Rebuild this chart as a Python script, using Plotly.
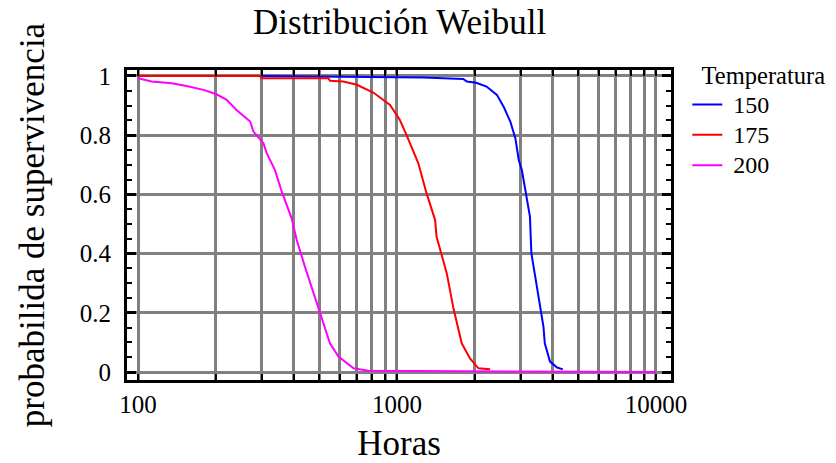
import plotly.graph_objects as go

# Series data
horas_150 = [100, 300, 1264, 1802, 1862, 2022, 2217, 2431, 2580, 2739, 2865, 2952, 3035, 3261, 3303, 3494, 3677, 3721, 3898, 4150, 4368]
surv_150 = [1.0, 1.0, 0.995, 0.99, 0.981, 0.977, 0.964, 0.936, 0.896, 0.846, 0.789, 0.716, 0.682, 0.525, 0.401, 0.277, 0.153, 0.097, 0.035, 0.015, 0.009]

horas_175 = [100, 296, 300, 543, 551, 620, 700, 810, 940, 1026, 1088, 1209, 1300, 1403, 1422, 1557, 1652, 1778, 1913, 2064, 2288]
surv_175 = [1.0, 1.0, 0.992, 0.992, 0.984, 0.981, 0.970, 0.944, 0.902, 0.851, 0.801, 0.705, 0.604, 0.514, 0.457, 0.333, 0.215, 0.097, 0.046, 0.0125, 0.009]

horas_200 = [100, 113, 135, 154, 179, 201, 220, 240, 271, 279, 305, 314, 338, 359, 392, 410, 441, 476, 503, 551, 594, 680, 775, 10000]
surv_200 = [0.992, 0.981, 0.975, 0.966, 0.953, 0.938, 0.919, 0.885, 0.846, 0.812, 0.773, 0.739, 0.682, 0.609, 0.519, 0.446, 0.356, 0.266, 0.198, 0.097, 0.052, 0.0125, 0.004, 0.0]

series_names = ["150", "175", "200"]
series_colors = ["#0000ff", "#ff0000", "#ff00ff"]

x_tickvals = [m * 10 ** e for e in (2, 3) for m in range(1, 10)] + [10000]
x_ticktext = [str(v) if v in (100, 1000, 10000) else "" for v in x_tickvals]
y_tickvals = [0, 0.2, 0.4, 0.6, 0.8, 1]
y_ticktext = ["0", "0.2", "0.4", "0.6", "0.8", "1"]

FONT = "Liberation Serif, Times New Roman, serif"

fig = go.Figure()
for xs, ys, name, color in zip([horas_150, horas_175, horas_200],
                               [surv_150, surv_175, surv_200],
                               series_names, series_colors):
    fig.add_trace(go.Scatter(x=xs, y=ys, mode="lines",
                             name="<span style='font-size:24px'>&nbsp;" + name + "</span>",
                             line=dict(color=color, width=2)))

fig.update_layout(
    width=836, height=463,
    margin=dict(l=127, r=165, t=70, b=83, autoexpand=False),
    paper_bgcolor="white", plot_bgcolor="white",
    font=dict(family=FONT, color="black", size=25),
    title=dict(text="Distribución Weibull", x=0.478, xanchor="center",
               y=0.952, yanchor="middle", font=dict(size=35, family=FONT)),
    legend=dict(x=1.03, y=1.05, xanchor="left", yanchor="top",
                title=dict(text="<span style='font-size:24.5px'>&nbsp;&nbsp;Temperatura</span>"),
                font=dict(size=21, family=FONT), tracegroupgap=0,
                itemwidth=30,
                bgcolor="rgba(0,0,0,0)"),
)
fig.update_layout(legend_title_font=dict(size=23, family=FONT, color="black"))

fig.update_xaxes(
    type="log", range=[1.9575, 4.058], automargin=False,
    tickmode="array", tickvals=x_tickvals, ticktext=x_ticktext,
    ticks="inside", ticklen=6, tickwidth=2, tickcolor="black",
    showgrid=True, gridcolor="#808080", gridwidth=3,
    showline=True, linecolor="black", linewidth=3, mirror="ticks",
    zeroline=False,
    title=dict(text="Horas", font=dict(size=35, family=FONT), standoff=18),
    tickfont=dict(size=25, family=FONT),
)
fig.update_yaxes(
    range=[-0.027, 1.02], automargin=False,
    tickmode="array", tickvals=y_tickvals, ticktext=y_ticktext,
    ticks="inside", ticklen=9, tickwidth=3, tickcolor="black",
    minor=dict(dtick=0.05, ticks="inside", ticklen=5, tickwidth=2, tickcolor="black", showgrid=False),
    showgrid=True, gridcolor="#808080", gridwidth=3,
    showline=True, linecolor="black", linewidth=3, mirror="ticks",
    zeroline=False, ticklabelstandoff=8,
    title=dict(text="probabilida de supervivencia", font=dict(size=35, family=FONT), standoff=25),
    tickfont=dict(size=25, family=FONT),
)

fig.write_html("out.html", config={"displayModeBar": False},
               post_script="document.body.style.margin='0px';")
